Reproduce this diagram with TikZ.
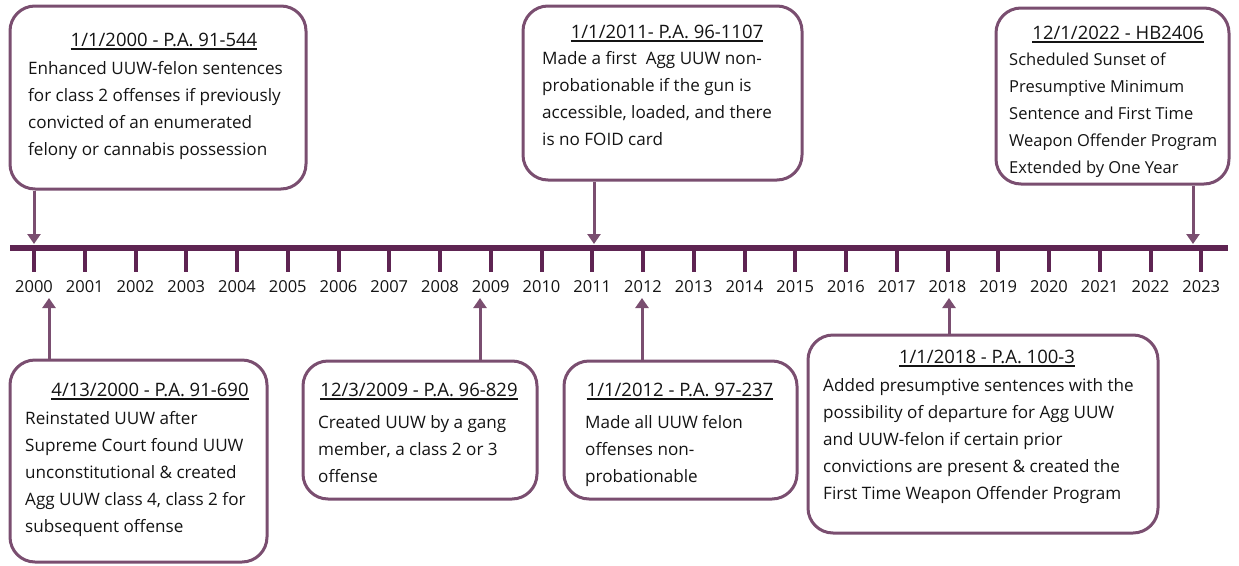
\documentclass[tikz,border=0pt]{standalone}
\usepackage{fontspec}
\setmainfont{Open Sans}
\usetikzlibrary{arrows.meta}
\definecolor{boxc}{RGB}{122,78,112}
\definecolor{linec}{RGB}{94,36,82}
\definecolor{txtc}{RGB}{20,20,20}
\newcommand{\myul}[1]{\leavevmode\vtop{\hbox{#1}\kern2.2pt\hrule height 1.3pt}}
\tikzset{
  evbox/.style={draw=boxc, line width=3pt, rounded corners=25pt, fill=white, inner sep=0pt},
  ttl/.style={anchor=base, inner sep=0pt, text=txtc, font=\fontsize{18.5}{27}\selectfont},
  body/.style={anchor=north west, inner sep=0pt, align=left, text=txtc, font=\fontsize{17.1}{27}\selectfont},
  arr/.style={draw=boxc, line width=3pt, -{Triangle[width=13pt,length=10pt]}},
  tick/.style={draw=linec, line width=4pt},
  yr/.style={inner sep=0pt, text=txtc, font=\fontsize{16.5}{20}\selectfont}
}
\begin{document}
\begin{tikzpicture}[x=1pt,y=-1pt]
\useasboundingbox (0,0) rectangle (1239,565);
% main line
\coordinate (L0) at (10,247.8);
\coordinate (L1) at (1228,247.8);
\draw[draw=linec, line width=5.5pt] (L0) -- (L1);
% ticks and years
\foreach \i in {0,...,23}{
  \pgfmathsetmacro{\xx}{34+50.75*\i}
  \pgfmathtruncatemacro{\yy}{2000+\i}
  \coordinate (t\i) at (\xx,249);
  \coordinate (u\i) at (\xx,272);
  \draw[tick] (t\i) -- (u\i);
  \node[yr] (y\i) at (\xx,286.5) {\yy};
}
% boxes
\node[evbox, minimum width=296pt, minimum height=183pt] (b1) at (158,97.5) {};
\node[evbox, minimum width=279pt, minimum height=174pt] (b2) at (662.5,93) {};
\node[evbox, minimum width=233pt, minimum height=176pt] (b3) at (1112.5,96) {};
\node[evbox, minimum width=257pt, minimum height=202pt] (b4) at (138.5,461) {};
\node[evbox, minimum width=234pt, minimum height=138pt] (b5) at (420,430) {};
\node[evbox, minimum width=233pt, minimum height=138pt] (b6) at (680.5,430) {};
\node[evbox, minimum width=350pt, minimum height=198pt] (b7) at (983,434) {};
% arrow ends
\coordinate (e1) at (34,244);
\coordinate (e2) at (594,244);
\coordinate (e3) at (1193,244);
\coordinate (e4) at (49,298);
\coordinate (e5) at (480,298);
\coordinate (e6) at (642,298);
\coordinate (e7) at (949,298);
\draw[arr] (b1.south -| e1) -- (e1);
\draw[arr] (b2.south -| e2) -- (e2);
\draw[arr] (b3.south -| e3) -- (e3);
\draw[arr] (b4.north -| e4) -- (e4);
\draw[arr] (b5.north -| e5) -- (e5);
\draw[arr] (b6.north -| e6) -- (e6);
\draw[arr] (b7.north -| e7) -- (e7);
% texts
\node[ttl] (h1) at (164,46) {\myul{1/1/2000 - P.A. 91-544}};
\node[body] (x1) at (28,61) {Enhanced UUW-felon sentences\\for class 2 offenses if previously\\convicted of an enumerated\\felony or cannabis possession};
\node[ttl] (h2) at (667,38) {\myul{1/1/2011- P.A. 96-1107}};
\node[body] (x2) at (542,51) {Made a first\ \ Agg UUW non-\\probationable if the gun is\\accessible, loaded, and there\\is no FOID card};
\node[ttl] (h3) at (1118,39) {\myul{12/1/2022 - HB2406}};
\node[body, font=\fontsize{16.5}{27}\selectfont] (x3) at (1009,53) {Scheduled Sunset of\\Presumptive Minimum\\Sentence and First Time\\Weapon Offender Program\\Extended by One Year};
\node[ttl] (h4) at (150,396) {\myul{4/13/2000 - P.A. 91-690}};
\node[body] (x4) at (25,411) {Reinstated UUW after\\Supreme Court found UUW\\unconstitutional \& created\\Agg UUW class 4, class 2 for\\subsequent offense};
\node[ttl] (h5) at (419,396) {\myul{12/3/2009 - P.A. 96-829}};
\node[body] (x5) at (318,415) {Created UUW by a gang\\member, a class 2 or 3\\offense};
\node[ttl] (h6) at (680,396) {\myul{1/1/2012 - P.A. 97-237}};
\node[body] (x6) at (585,415) {Made all UUW felon\\offenses non-\\probationable};
\node[ttl] (h7) at (987,363) {\myul{1/1/2018 - P.A. 100-3}};
\node[body] (x7) at (823,378) {Added presumptive sentences with the\\possibility of departure for Agg UUW\\and UUW-felon if certain prior\\convictions are present \& created the\\First Time Weapon Offender Program};
\end{tikzpicture}
\end{document}
